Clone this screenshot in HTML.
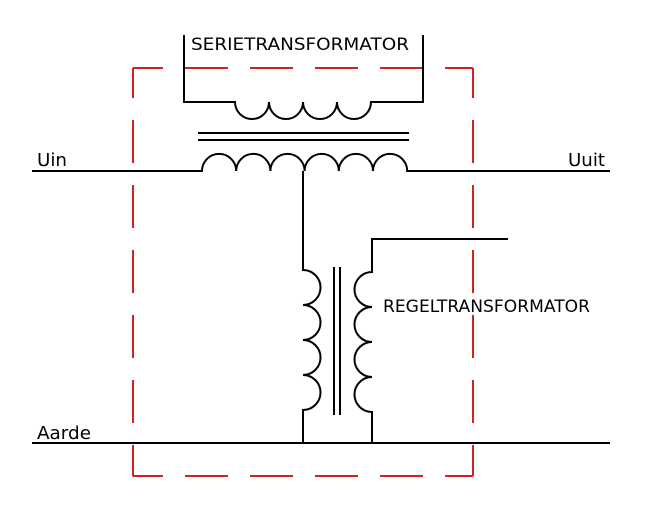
<!DOCTYPE html>
<html><head><style>html,body{margin:0;padding:0;background:#fff}</style></head>
<body>
<svg width="651" height="512" xmlns="http://www.w3.org/2000/svg" font-family="'DejaVu Sans','Liberation Sans',sans-serif" font-size="17">
<g fill="none" stroke="#d42020" stroke-width="2" stroke-dasharray="43,22" stroke-dashoffset="13">
<path d="M133,68 H473"/>
<path d="M133,476 H473"/>
<path d="M133,68 V476"/>
<path d="M473,68 V476"/>
</g>
<g fill="none" stroke="#000" stroke-width="2">
<path d="M184,35 V102 H235 a17,17 0 0 0 34,0 a17,17 0 0 0 34,0 a17,17 0 0 0 34,0 a17,17 0 0 0 34,0 H423 V35"/>
<path d="M198,133 H409 M198,140 H409"/>
<path d="M32,171 H202 a17.1,17.1 0 0 1 34.2,0 a17.1,17.1 0 0 1 34.2,0 a17.1,17.1 0 0 1 34.2,0 a17.1,17.1 0 0 1 34.2,0 a17.1,17.1 0 0 1 34.2,0 a17.1,17.1 0 0 1 34.2,0 H610"/>
<path d="M303,171 V270 a17.5,17.5 0 0 1 0,35 a17.5,17.5 0 0 1 0,35 a17.5,17.5 0 0 1 0,35 a17.5,17.5 0 0 1 0,35 V443"/>
<path d="M334,267 V415 M340,267 V415"/>
<path d="M508,239 H372 V272 a17.5,17.5 0 0 0 0,35 a17.5,17.5 0 0 0 0,35 a17.5,17.5 0 0 0 0,35 a17.5,17.5 0 0 0 0,35 V443"/>
<path d="M32,443 H610"/>
</g>
<g fill="#000">
<text x="191" y="50" font-size="17" textLength="218" lengthAdjust="spacingAndGlyphs">SERIETRANSFORMATOR</text>
<text x="37" y="166" font-size="18" textLength="30" lengthAdjust="spacingAndGlyphs">Uin</text>
<text x="568" y="166" font-size="18" textLength="37" lengthAdjust="spacingAndGlyphs">Uuit</text>
<text x="37" y="439" font-size="18" textLength="54" lengthAdjust="spacingAndGlyphs">Aarde</text>
<text x="383" y="312" font-size="17" textLength="207" lengthAdjust="spacingAndGlyphs">REGELTRANSFORMATOR</text>
</g>
</svg>
</body></html>
